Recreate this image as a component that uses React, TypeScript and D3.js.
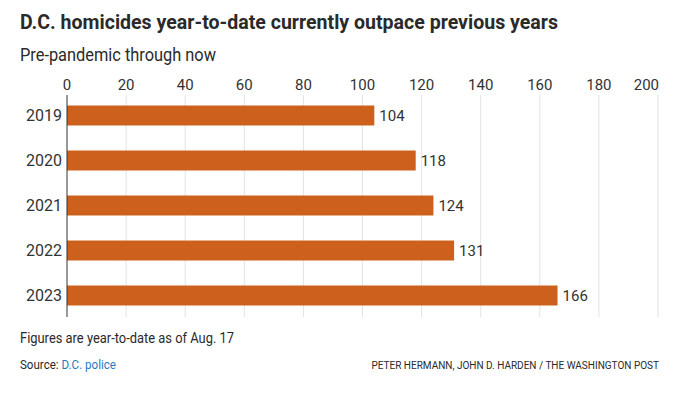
import React from "react";
import * as d3 from "d3";

const years = ["2019", "2020", "2021", "2022", "2023"];
const homicides = [104, 118, 124, 131, 166];
const xTicks = [0, 20, 40, 60, 80, 100, 120, 140, 160, 180, 200];

const W = 685;
const H = 399;
const FONT = "'Roboto', 'Liberation Sans', sans-serif";

export default function App() {
  const x = d3.scaleLinear().domain([0, 200]).range([67, 658]);
  const y = d3.scaleBand().domain(years).range([93, 318]).paddingInner(0.556).paddingOuter(0.278);
  const gridTop = 95;
  const gridBottom = 317;
  const barColor = "#cd601c";

  return (
    <div style={{ position: "fixed", left: 0, top: 0 }}>
      <svg width={W} height={H} style={{ display: "block", background: "#fff" }}>
        <text x={20} y={29} fontFamily={FONT} fontWeight={700} fontSize={21} fill="#2a2a2a"
          textLength={538} lengthAdjust="spacingAndGlyphs">
          D.C. homicides year-to-date currently outpace previous years
        </text>
        <text x={20} y={61} fontFamily={FONT} fontSize={18} fill="#2a2a2a"
          textLength={196} lengthAdjust="spacingAndGlyphs">
          Pre-pandemic through now
        </text>

        {xTicks.map((t, i) => (
          <g key={t}>
            {t !== 0 && (
              <line x1={x(t)} x2={x(t)} y1={gridTop} y2={gridBottom} stroke="#e3e3e3" strokeWidth={1} />
            )}
            <text
              x={i === xTicks.length - 1 ? x(t) + 1 : x(t)}
              y={90}
              textAnchor={i === xTicks.length - 1 ? "end" : "middle"}
              fontFamily={FONT}
              fontSize={15}
              fill="#333"
            >
              {t}
            </text>
          </g>
        ))}

        {years.map((yr, i) => (
          <g key={yr}>
            <rect x={x(0)} y={y(yr)!} width={x(homicides[i]) - x(0)} height={y.bandwidth()} fill={barColor} />
            <text x={62} y={y(yr)! + y.bandwidth() / 2 + 5.5} textAnchor="end" fontFamily={FONT} fontSize={16} fill="#333">
              {yr}
            </text>
            <text x={x(homicides[i]) + 5} y={y(yr)! + y.bandwidth() / 2 + 5.5} fontFamily={FONT} fontSize={15} fill="#333">
              {homicides[i]}
            </text>
          </g>
        ))}

        <line x1={x(0)} x2={x(0)} y1={gridTop} y2={gridBottom} stroke="#333" strokeWidth={1} />

        <text x={20} y={343} fontFamily={FONT} fontSize={14.5} fill="#2a2a2a"
          textLength={214} lengthAdjust="spacingAndGlyphs">
          Figures are year-to-date as of Aug. 17
        </text>
        <text x={20} y={369} fontFamily={FONT} fontSize={12.5} fill="#2a2a2a"
          textLength={96} lengthAdjust="spacingAndGlyphs">
          Source: <tspan fill="#1f7bc1">D.C. police</tspan>
        </text>
        <text x={659} y={369} textAnchor="end" fontFamily={FONT} fontSize={10} fill="#2a2a2a">
          PETER HERMANN, JOHN D. HARDEN / THE WASHINGTON POST
        </text>
      </svg>
    </div>
  );
}
